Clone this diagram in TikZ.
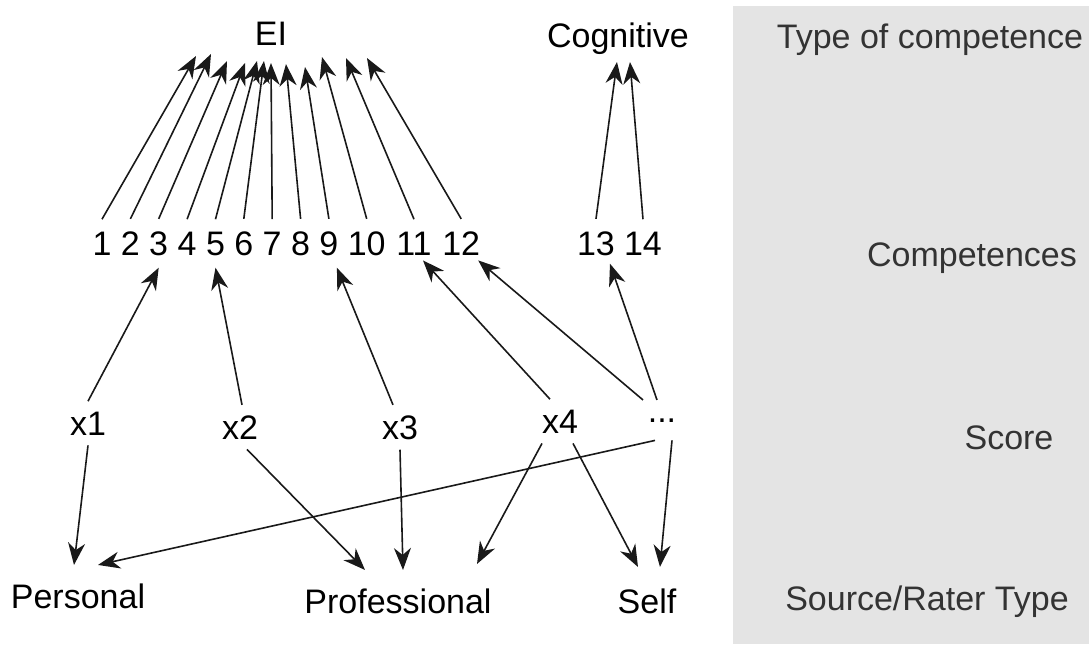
\documentclass[tikz,border=0pt]{standalone}
\usepackage{fontspec}
\setmainfont{Liberation Sans}
\usepackage{tikz}
\usetikzlibrary{arrows.meta}
\definecolor{panel}{RGB}{228,228,228}

\begin{document}
\begin{tikzpicture}[x=0.5pt, y=-0.5pt,
	lbl/.style={anchor=base, inner sep=0pt, font=\fontsize{17}{20}\selectfont},
	num/.style={lbl, inner ysep=6pt},
	score/.style={lbl, inner ysep=5pt},
	src/.style={lbl, inner ysep=9pt},
	side/.style={lbl, text=black!80},
	arr/.style={-{Stealth[length=11pt,width=8.5pt,inset=3.5pt]}, line width=0.8pt, draw=black!90}]
	
	\fill[panel] (733,6) rectangle (1089,644);
	\useasboundingbox (0,0) rectangle (1089,644);
	
	% type of competence
	\node[lbl] (ei) at (271,45)     {EI};
	\node[lbl] (cog) at (618,47)     {Cognitive};
	
	% competences
	\node[num] (n1) at (102,255)     {1};
	\node[num] (n2) at (130.4,255)     {2};
	\node[num] (n3) at (158.7,255)     {3};
	\node[num] (n4) at (187.1,255)     {4};
	\node[num] (n5) at (215.5,255)     {5};
	\node[num] (n6) at (243.8,255)     {6};
	\node[num] (n7) at (272.2,255)     {7};
	\node[num] (n8) at (300.6,255)     {8};
	\node[num] (n9) at (328.9,255)     {9};
	\node[num] (n10) at (366.7,255)     {10};
	\node[num] (n11) at (414,255)     {11};
	\node[num] (n12) at (461.2,255)     {12};
	\node[num] (n13) at (596,255)     {13};
	\node[num] (n14) at (643,255)     {14};
	
	% scores
	\node[score] (x1) at (88,435)     {x1};
	\node[score] (x2) at (240,439)     {x2};
	\node[score] (x3) at (400,439)     {x3};
	\node[score] (x4) at (560,433)     {x4};
	\node[lbl, inner ysep=9pt] (xd) at (662,422)     {...};
	
	% source / rater type
	\node[src] (pers) at (78,608)     {Personal};
	\node[src] (prof) at (398,613)     {Professional};
	\node[src] (self) at (647,613)     {Self};
	
	% level names
	\node[side] (tTyp) at (930,48)     {Type of competence};
	\node[side] (tCom) at (972,266)     {Competences};
	\node[side] (tSco) at (1009,449)     {Score};
	\node[side] (tSrc) at (927,610)     {Source/Rater Type};
	
	\draw[arr] (n1.north) -- ([shift={(-75,11)}]ei.base);
	\draw[arr] (n2.north) -- ([shift={(-60,9)}]ei.base);
	\draw[arr] (n3.north) -- ([shift={(-44,16)}]ei.base);
	\draw[arr] (n4.north) -- ([shift={(-26,18)}]ei.base);
	\draw[arr] (n5.north) -- ([shift={(-14,16)}]ei.base);
	\draw[arr] (n6.north) -- ([shift={(-7,16)}]ei.base);
	\draw[arr] (n7.north) -- ([shift={(0,18)}]ei.base);
	\draw[arr] (n8.north) -- ([shift={(15,19)}]ei.base);
	\draw[arr] (n9.north) -- ([shift={(34,22)}]ei.base);
	\draw[arr] (n10.north) -- ([shift={(51,12)}]ei.base);
	\draw[arr] (n11.north) -- ([shift={(75,13)}]ei.base);
	\draw[arr] (n12.north) -- ([shift={(96,13)}]ei.base);
	\draw[arr] (n13.north) -- ([shift={(-1,15)}]cog.base);
	\draw[arr] (n14.north) -- ([shift={(12,15)}]cog.base);
	
	\draw[arr] (x1.north) -- (n3.south);
	\draw[arr] ([xshift=1pt]x2.north) -- (n5.south);
	\draw[arr] ([xshift=-3.5pt]x3.north) -- ([xshift=4pt]n9.south);
	\draw[arr] ([xshift=-5pt]x4.north) -- ([xshift=4.5pt,yshift=3.5pt]n11.south);
	\draw[arr] ([xshift=-9.5pt]xd.north) -- ([xshift=8.5pt,yshift=3.5pt]n12.south);
	\draw[arr] ([xshift=-2.5pt]xd.north) -- ([xshift=7pt,yshift=2pt]n13.south);
	
	\draw[arr] (x1.south) -- ([xshift=-2pt]pers.north);
	\draw[arr] ([xshift=-3.5pt]xd.south) -- ([xshift=10pt]pers.north);
	\draw[arr] ([xshift=3.5pt]x2.south) -- ([xshift=-16.5pt]prof.north);
	\draw[arr] (x3.south) -- ([xshift=2.5pt]prof.north);
	\draw[arr] ([xshift=-9pt]x4.south) -- ([xshift=39.5pt,yshift=3pt]prof.north);
	\draw[arr] ([xshift=6.5pt]x4.south) -- ([xshift=-4.5pt,yshift=1.5pt]self.north);
	\draw[arr] ([xshift=5pt]xd.south) -- ([xshift=6.5pt,yshift=1.5pt]self.north);
	
\end{tikzpicture}
\end{document}
